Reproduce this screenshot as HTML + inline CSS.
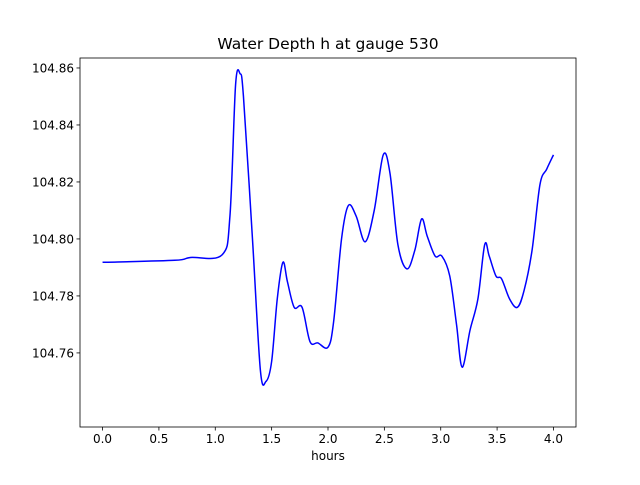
<!DOCTYPE html>
<html><head><meta charset="utf-8"><style>
body{margin:0;background:#fff;}
svg text{font-family:"DejaVu Sans","Liberation Sans",sans-serif;}
</style></head><body>
<svg id="chart" width="640" height="480" viewBox="0 0 640 480">
<rect x="0" y="0" width="640" height="480" fill="#fff"/>
<text x="328" y="49" font-size="15.5" text-anchor="middle">Water Depth h at gauge 530</text>
<g id="axes"></g>
</svg>
<script>
const hours=[0,0.64,0.78,1.06,1.13,1.18,1.22,1.25,1.33,1.40,1.45,1.50,1.55,1.60,1.64,1.70,1.77,1.84,1.91,2.0,2.05,2.12,2.18,2.25,2.33,2.41,2.49,2.55,2.62,2.70,2.77,2.83,2.88,2.95,3.01,3.08,3.14,3.19,3.26,3.33,3.39,3.43,3.49,3.54,3.61,3.68,3.74,3.81,3.88,3.94,4.0];
const depth=[104.7918,104.7925,104.7935,104.7944,104.808,104.854,104.858,104.850,104.800,104.754,104.750,104.757,104.779,104.7918,104.785,104.776,104.776,104.764,104.7635,104.762,104.771,104.800,104.8117,104.808,104.799,104.810,104.8295,104.823,104.798,104.7895,104.796,104.807,104.801,104.794,104.794,104.787,104.770,104.755,104.768,104.779,104.798,104.794,104.787,104.786,104.779,104.776,104.782,104.796,104.819,104.8245,104.8295];
const xTicks=[0,0.5,1,1.5,2,2.5,3,3.5,4];
const xTickLabels=["0.0","0.5","1.0","1.5","2.0","2.5","3.0","3.5","4.0"];
const yTicks=[104.76,104.78,104.80,104.82,104.84,104.86];
const yTickLabels=["104.76","104.78","104.80","104.82","104.84","104.86"];
const L=80,R=576,T=58,B=427;
const xMin=-0.2,xMax=4.2,yMin=104.734,yMax=104.8635;
const sx=v=>L+(v-xMin)/(xMax-xMin)*(R-L);
const sy=v=>B-(v-yMin)/(yMax-yMin)*(B-T);
const NS="http://www.w3.org/2000/svg";
const g=document.getElementById('axes');
function mk(tag,attrs,parent){const e=document.createElementNS(NS,tag);for(const k in attrs)e.setAttribute(k,attrs[k]);(parent||g).appendChild(e);return e;}
// smooth line (Catmull-Rom)
const P=hours.map((h,i)=>[sx(h),sy(depth[i])]);
let d="M"+P[0][0].toFixed(2)+","+P[0][1].toFixed(2);
for(let i=0;i<P.length-1;i++){
  const p0=P[Math.max(0,i-1)],p1=P[i],p2=P[i+1],p3=P[Math.min(P.length-1,i+2)];
  const c1=[p1[0]+(p2[0]-p0[0])/6,p1[1]+(p2[1]-p0[1])/6];
  const c2=[p2[0]-(p3[0]-p1[0])/6,p2[1]-(p3[1]-p1[1])/6];
  d+="C"+c1[0].toFixed(2)+","+c1[1].toFixed(2)+" "+c2[0].toFixed(2)+","+c2[1].toFixed(2)+" "+p2[0].toFixed(2)+","+p2[1].toFixed(2);
}
const line=mk('path',{d:d,fill:"none",stroke:"#0000ff","stroke-width":1.5,"stroke-linejoin":"round"});


const fr=mk('rect',{x:L,y:T,width:R-L,height:B-T,fill:"none",stroke:"#000","stroke-width":0.8});


xTicks.forEach((v,i)=>{
  const x=sx(v);
  const t=mk('line',{x1:x,x2:x,y1:B,y2:B+3.5,stroke:"#000","stroke-width":0.8});
  
  
  const tx=mk('text',{x:x,y:B+16,"font-size":12,"text-anchor":"middle"});
  tx.textContent=xTickLabels[i];
  
  
});
yTicks.forEach((v,i)=>{
  const y=sy(v);
  const t=mk('line',{x1:L-3.5,x2:L,y1:y,y2:y,stroke:"#000","stroke-width":0.8});
  
  
  const tx=mk('text',{x:L-6,y:y+4.5,"font-size":12,"text-anchor":"end"});
  tx.textContent=yTickLabels[i];
  
  
});
const xl=mk('text',{x:(L+R)/2,y:B+33,"font-size":12,"text-anchor":"middle"});
xl.textContent="hours";


</script>
</body></html>
